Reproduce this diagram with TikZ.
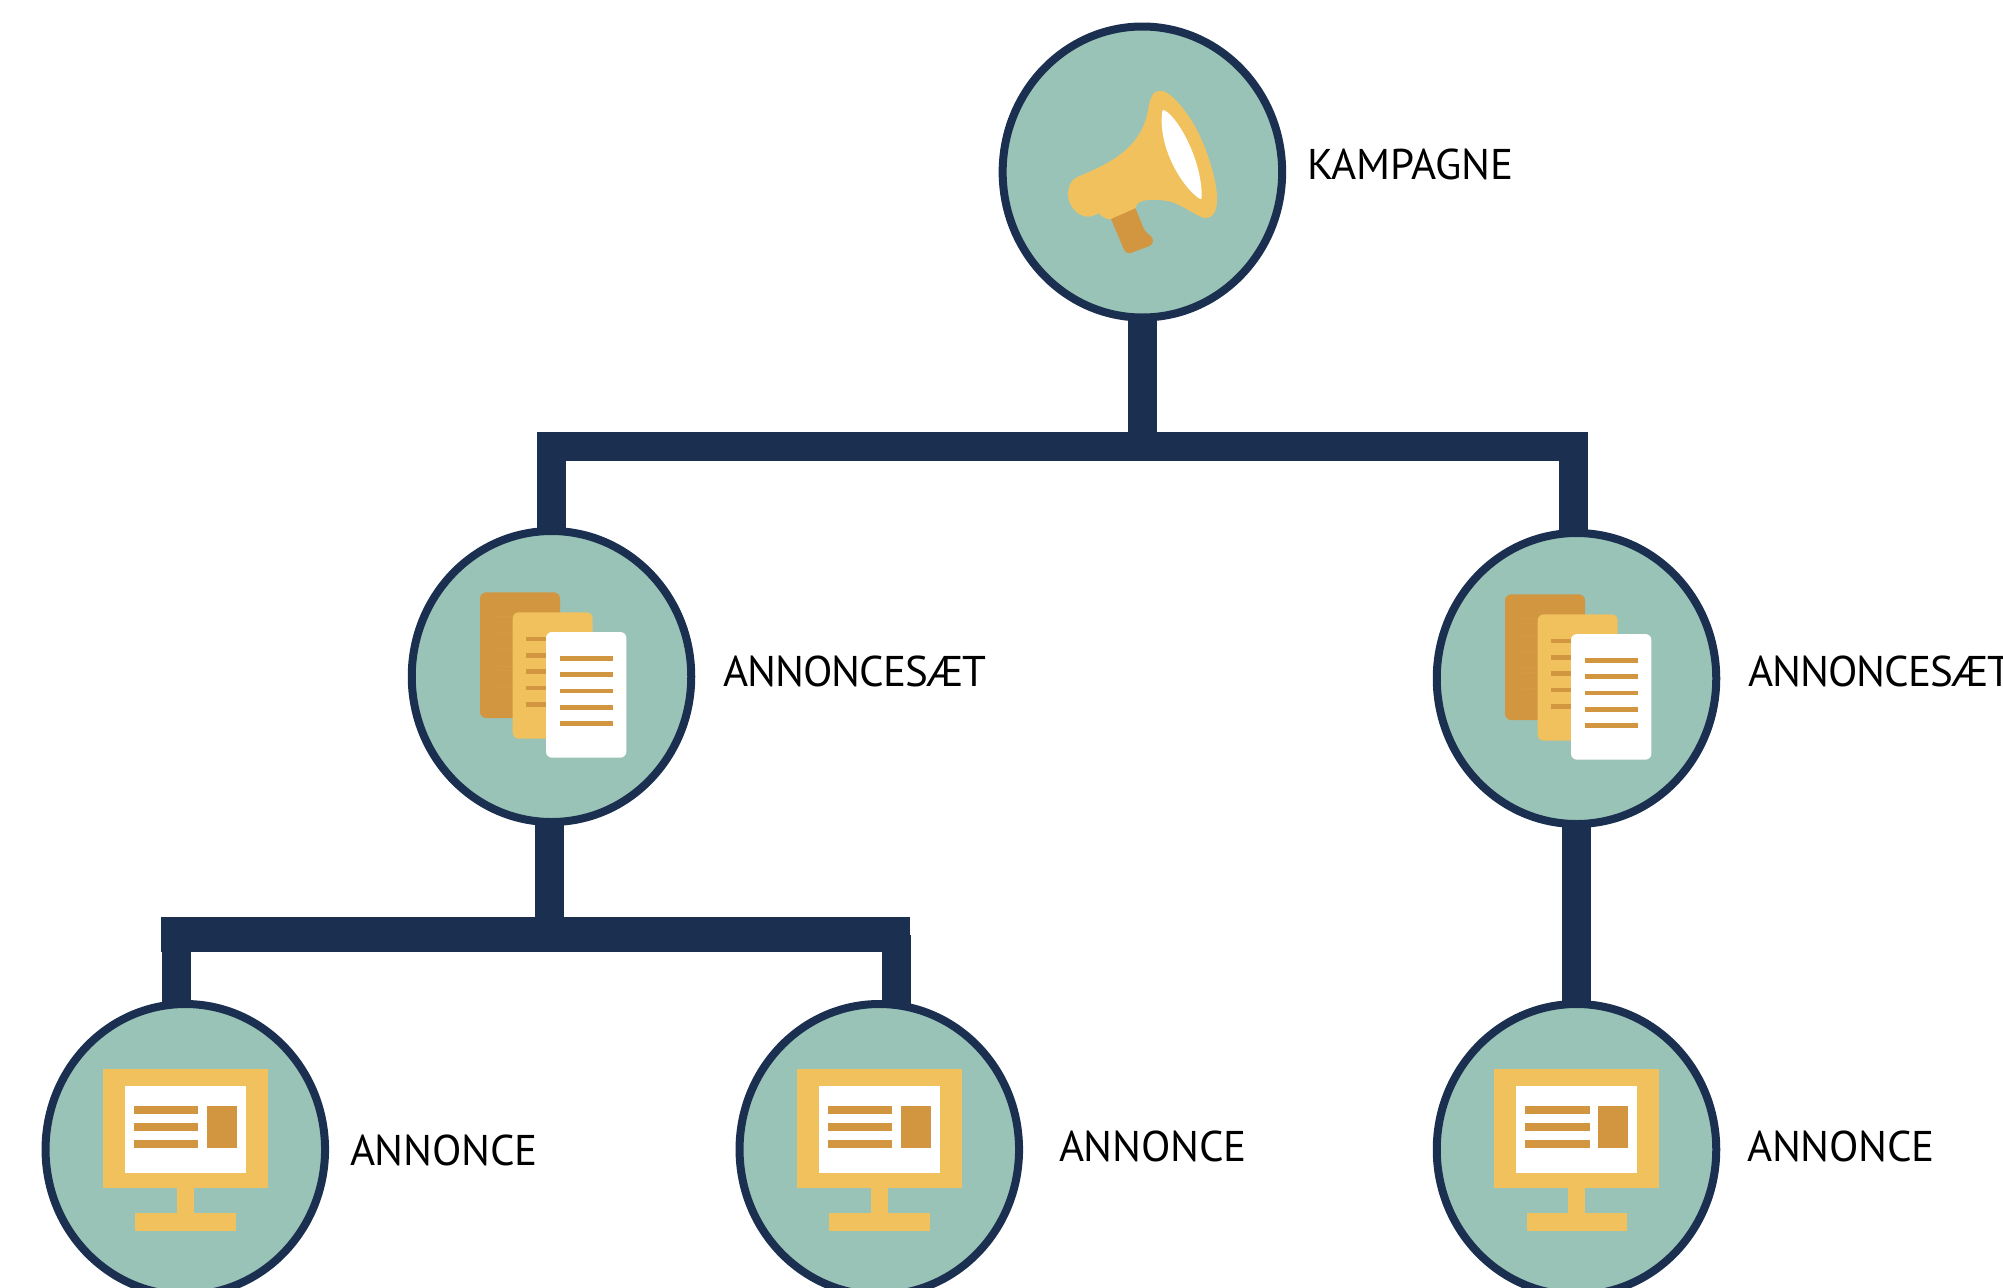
\documentclass[tikz,border=0pt]{standalone}
\usepackage{fontspec}
\setmainfont{PT Sans}
\usetikzlibrary{shapes.geometric,backgrounds}
\definecolor{teal}{HTML}{9AC3B7}
\definecolor{navy}{HTML}{1B3050}
\definecolor{gold}{HTML}{F0C15D}
\definecolor{ochre}{HTML}{D29640}
\tikzset{
  disc/.style={ellipse,draw=navy,fill=teal,line width=8pt,inner sep=0pt,outer sep=0pt,minimum width=279.5pt,minimum height=291pt},
  lab/.style={anchor=base west,inner sep=0pt,outer sep=0pt,text=black,font=\fontsize{43}{43}\selectfont\addfontfeature{LetterSpace=-0.5}},
  labtight/.style={lab,font=\fontsize{43}{43}\selectfont\addfontfeature{LetterSpace=-2.2}},
  conn/.style={draw=navy,line width=29pt,line cap=butt,line join=miter},
  iconscale/.style={x=0.33333pt,y=-0.33333pt},
  mega/.pic={\begin{scope}[iconscale,shift={(-487,-516)}]
    \fill[ochre] (392,655) -- (430,745) .. controls (436,760) and (445,762) .. (455,758) -- (508,738) .. controls (522,732) and (522,715) .. (510,706) .. controls (498,698) and (492,690) .. (488,678) -- (465,622) -- cycle;
    \fill[gold] (290,532) .. controls (370,497) and (480,455) .. (503,335) .. controls (510,290) and (520,272) .. (540,272) .. controls (575,272) and (635,350) .. (665,420) .. controls (695,490) and (712,560) .. (711,600) .. controls (710,640) and (695,655) .. (675,654) .. controls (650,650) and (620,622) .. (575,606) .. controls (540,597) and (485,595) .. (472,612) -- (465,625) -- (392,657) .. controls (380,660) and (365,650) .. (356,640) .. controls (345,645) and (335,650) .. (322,650) .. controls (290,648) and (264,615) .. (264,583) .. controls (264,560) and (272,540) .. (290,532) -- cycle;
    \fill[white] (550,330) .. controls (585,340) and (665,470) .. (665,590) .. controls (665,600) and (660,598) .. (650,590) .. controls (600,550) and (535,440) .. (546,338) .. controls (546,332) and (548,330) .. (550,330) -- cycle;
  \end{scope}},
  docs/.pic={\begin{scope}[iconscale,shift={(-454.5,-499.5)}]
    \fill[ochre,rounded corners=6pt] (240,247) rectangle (480,624);
    \foreach \yy in {318,368,418,467,481,529} \fill[ochre!92!gold] (290,\yy) rectangle (338,\yy+2);
    \fill[gold,rounded corners=6pt] (338,307) rectangle (578,686);
    \foreach \yy in {387,436,485,534,583} \fill[ochre] (378,\yy-7) rectangle (440,\yy+7);
    \fill[white,rounded corners=6pt] (438,366) rectangle (679,743);
    \foreach \yy in {445,494,543,592,641} \fill[ochre] (480,\yy-7) rectangle (638,\yy+7);
  \end{scope}},
  screen/.pic={\begin{scope}[iconscale,shift={(-466,-748.5)}]
    \fill[gold] (219,507) rectangle (713,865);
    \fill[gold] (441,865) rectangle (491,938);
    \fill[gold] (316,938) rectangle (617,994);
    \fill[white] (285,557) rectangle (647,819);
    \fill[ochre] (311,617) rectangle (505,642);
    \fill[ochre] (311,668) rectangle (505,693);
    \fill[ochre] (311,719) rectangle (505,744);
    \fill[ochre] (531,617) rectangle (621,744);
  \end{scope}},
}
\begin{document}
\begin{tikzpicture}[x=1pt,y=-1pt]
\useasboundingbox (0,0) rectangle (2003,1288);
\clip (0,0) rectangle (2003,1288);
% circles
\node[disc] (camp) at (1142.4,172) {};
\node[disc] (setL) at (551.5,676.5) {};
\node[disc] (setR) at (1576.5,678.5) {};
\node[disc] (adA) at (185.3,1149.5) {};
\node[disc] (adB) at (879.3,1149.5) {};
\node[disc] (adC) at (1576.5,1149.5) {};
% junction points
\coordinate (topL) at (551.5,446.5);
\coordinate (topR) at (1573,446.5);
\coordinate (midL) at (176.2,934.5);
\coordinate (midR) at (896,934.5);
\begin{scope}[on background layer]
  \draw[conn] (camp.south) -- (camp.south |- topL);
  \draw[conn] (setL.north) -- (topL) -- (topR) -- (topR |- setR.north);
  \draw[conn] (setL.south) ++(-2.5,0) coordinate (stemL) -- (stemL |- midL);
  \draw[conn,line width=35pt] ([xshift=-15.4pt]midL) -- ([xshift=14pt]midR);
  \draw[conn] (midL) -- (midL |- adA.north);
  \draw[conn] (midR) -- (midR |- adB.north);
  \draw[conn] (setR.south) -- (adC.north);
\end{scope}
% icons
\pic at (camp.center) {mega};
\pic at (setL.center) {docs};
\pic at (setR.center) {docs};
\pic at (adA.center) {screen};
\pic at (adB.center) {screen};
\pic at (adC.center) {screen};
% labels
\node[lab] (t1) at (1307,179.5) {KAMPAGNE};
\node[labtight] (t2) at (723,686) {ANNONCESÆT};
\node[labtight] (t3) at (1748,686) {ANNONCESÆT};
\node[lab] (t4) at (350,1165) {ANNONCE};
\node[lab] (t5) at (1059,1161) {ANNONCE};
\node[lab] (t6) at (1747,1161) {ANNONCE};
\end{tikzpicture}
\end{document}
